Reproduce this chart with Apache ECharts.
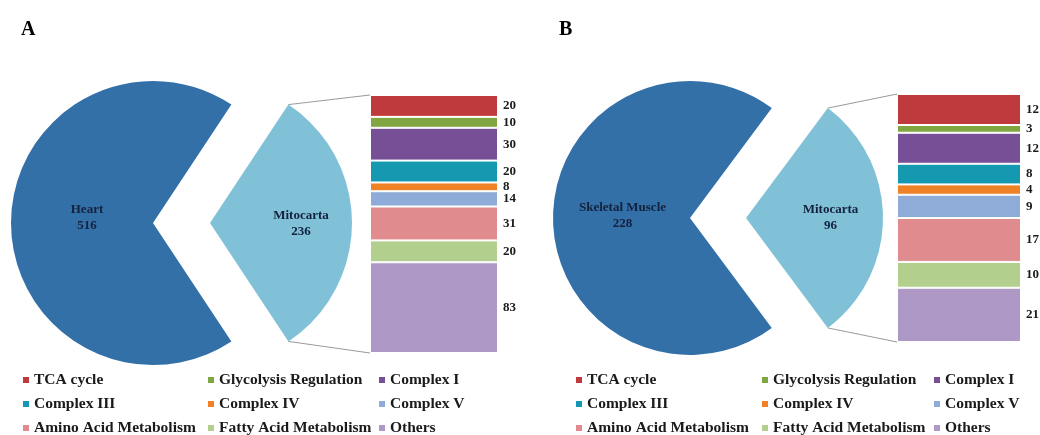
<!DOCTYPE html>
<html>
<head>
<meta charset="utf-8">
<title>Mitocarta breakdown – heart and skeletal muscle</title>
<script src="https://cdn.jsdelivr.net/npm/echarts@6/dist/echarts.min.js"></script>
<style>
  html, body { margin: 0; padding: 0; background: #ffffff; }
  #chart { width: 1040px; height: 435px; }
</style>
</head>
<body>
<div id="chart"></div>
<script>
// ---- data ----
const categories = [
  'TCA cycle', 'Glycolysis Regulation', 'Complex I',
  'Complex III', 'Complex IV', 'Complex V',
  'Amino Acid Metabolism', 'Fatty Acid Metabolism', 'Others'
];
const panelLetters = ['A', 'B'];
const pieNamesA = ['Mitocarta', 'Heart'];
const pieValuesA = [236, 516];
const pieNamesB = ['Mitocarta', 'Skeletal Muscle'];
const pieValuesB = [96, 228];
const breakdownA = [20, 10, 30, 20, 8, 14, 31, 20, 83];
const breakdownB = [12, 3, 12, 8, 4, 9, 17, 10, 21];

// ---- styling ----
const SERIF = '"Liberation Serif", "DejaVu Serif", serif';
const tissueColor = '#3470a8';
const mitoColor = '#80c1d8';
const categoryColors = [
  '#be3a3c', '#80a642', '#774f97',
  '#1499b0', '#ef8227', '#8fabd8',
  '#e08b8e', '#b3cf8e', '#ad98c6'
];

const panels = [
  {
    letter: panelLetters[0], names: pieNamesA, values: pieValuesA, parts: breakdownA,
    letterPos: [16, 15], center: [153, 223], radius: 142, explode: 57,
    bar: { left: 370, top: 95, width: 128, height: 258 },
    tissueShift: [8, -5], mitoShift: [17, 1],
    legendLeft: [21, 206, 377], legendTop: 372
  },
  {
    letter: panelLetters[1], names: pieNamesB, values: pieValuesB, parts: breakdownB,
    letterPos: [554, 15], center: [690, 218], radius: 137, explode: 56,
    bar: { left: 897, top: 94, width: 124, height: 248 },
    tissueShift: [4, -2], mitoShift: [13, 0],
    legendLeft: [574, 760, 932], legendTop: 372
  }
];
const legendRowStep = 24;

const option = {
  animation: false,
  backgroundColor: '#ffffff',
  title: [], grid: [], xAxis: [], yAxis: [], series: [], legend: [], graphic: []
};

panels.forEach(function (p, pi) {
  const total = p.values[0] + p.values[1];
  const mitoTotal = p.parts.reduce(function (a, b) { return a + b; }, 0);
  const halfAngle = 180 * p.values[0] / total; // degrees
  const pieLabel = {
    position: 'inner',
    fontFamily: SERIF, fontWeight: 'bold', fontSize: 13,
    color: '#14213d', lineHeight: 16,
    formatter: function (d) { return d.name + '\n' + d.value; }
  };

  option.title.push({
    text: p.letter, left: p.letterPos[0], top: p.letterPos[1],
    textStyle: { fontFamily: SERIF, fontWeight: 'bold', fontSize: 20, color: '#000' }
  });

  // tissue pie (the Mitocarta wedge left empty)
  option.series.push({
    type: 'pie', name: p.names[1], center: p.center, radius: p.radius,
    startAngle: halfAngle, clockwise: true, silent: true,
    avoidLabelOverlap: false, emphasis: { disabled: true },
    labelLine: { show: false },
    label: pieLabel,
    labelLayout: { dx: p.tissueShift[0], dy: p.tissueShift[1] },
    data: [
      { name: p.names[0], value: p.values[0], itemStyle: { color: 'rgba(0,0,0,0)' }, label: { show: false } },
      { name: p.names[1], value: p.values[1], itemStyle: { color: tissueColor } }
    ]
  });

  // exploded Mitocarta wedge
  const mitoCenter = [p.center[0] + p.explode, p.center[1]];
  option.series.push({
    type: 'pie', name: p.names[0], center: mitoCenter, radius: p.radius,
    startAngle: halfAngle, clockwise: true, silent: true,
    avoidLabelOverlap: false, emphasis: { disabled: true },
    labelLine: { show: false },
    label: pieLabel,
    labelLayout: { dx: p.mitoShift[0], dy: p.mitoShift[1] },
    data: [
      { name: p.names[0], value: p.values[0], itemStyle: { color: mitoColor } },
      { name: p.names[1], value: p.values[1], itemStyle: { color: 'rgba(0,0,0,0)' }, label: { show: false } }
    ]
  });

  // stacked breakdown column
  option.grid.push({
    left: p.bar.left, top: p.bar.top, width: p.bar.width, height: p.bar.height,
    containLabel: false
  });
  option.xAxis.push({
    type: 'category', gridIndex: pi, data: [p.names[0]], show: false
  });
  option.yAxis.push({
    type: 'value', gridIndex: pi, min: 0, max: mitoTotal, inverse: true, show: false
  });
  categories.forEach(function (cat, ci) {
    option.series.push({
      type: 'bar', name: cat, xAxisIndex: pi, yAxisIndex: pi,
      stack: 'mito' + pi, barWidth: '100%', silent: true,
      itemStyle: { color: categoryColors[ci], borderColor: '#ffffff', borderWidth: 1 },
      label: {
        show: true, position: 'right', distance: 5,
        fontFamily: SERIF, fontWeight: 'bold', fontSize: 13, color: '#1a1a1a'
      },
      data: [p.parts[ci]]
    });
  });

  // connector lines from the wedge tips to the column corners
  const rad = halfAngle * Math.PI / 180;
  const tipX = mitoCenter[0] + p.radius * Math.cos(rad);
  const tipDy = p.radius * Math.sin(rad);
  [[mitoCenter[1] - tipDy, p.bar.top], [mitoCenter[1] + tipDy, p.bar.top + p.bar.height]].forEach(function (seg) {
    option.graphic.push({
      type: 'line', silent: true, z: 1,
      shape: { x1: tipX, y1: seg[0], x2: p.bar.left, y2: seg[1] },
      style: { stroke: '#9a9a9a', lineWidth: 1 }
    });
  });

  // legend: a 3 x 3 grid, one entry per cell (row-major order)
  categories.forEach(function (cat, ci) {
    const col = ci % 3, row = Math.floor(ci / 3);
    option.legend.push({
      left: p.legendLeft[col], top: p.legendTop + row * legendRowStep,
      itemWidth: 8, itemHeight: 8, icon: 'rect',
      selectedMode: false, padding: 0,
      textStyle: { fontFamily: SERIF, fontWeight: 'bold', fontSize: 15.5, color: '#1a1a1a', padding: [0, 0, 0, -1] },
      data: [cat]
    });
  });
});

const chart = echarts.init(document.getElementById('chart'), null, { renderer: 'canvas' });
chart.setOption(option);
</script>
</body>
</html>
